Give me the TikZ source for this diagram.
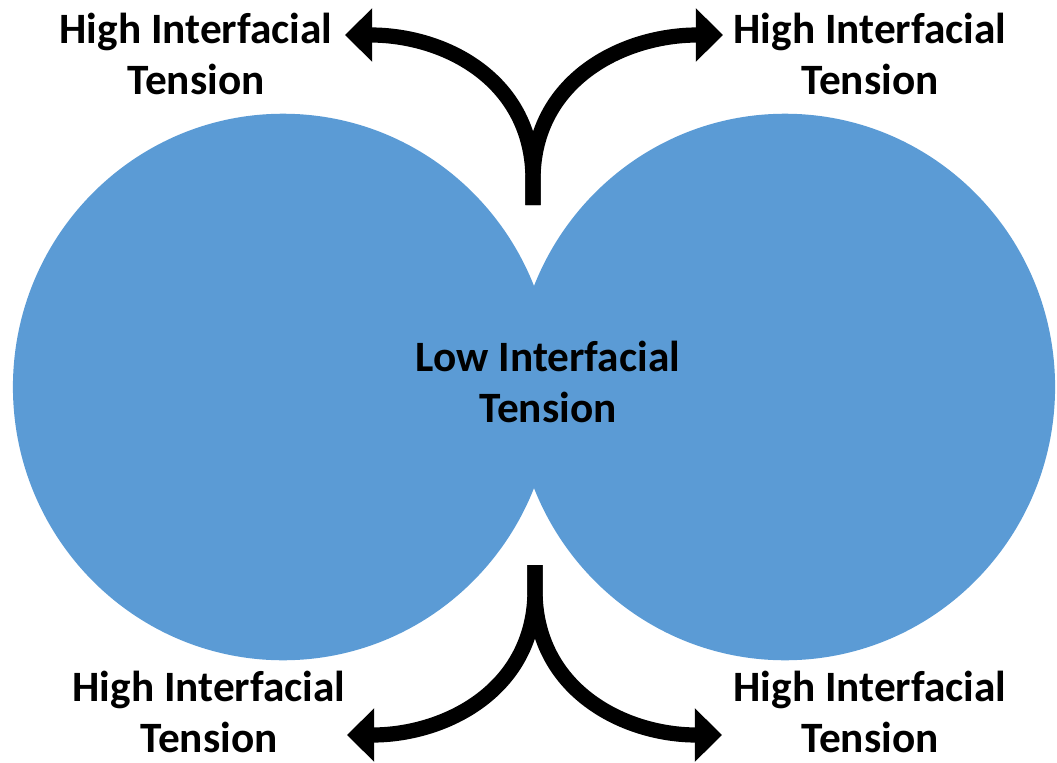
\documentclass[tikz,border=0pt]{standalone}
\usepackage{fontspec}
\setmainfont{Carlito}
\usepackage{tikz}
\usetikzlibrary{arrows.meta,positioning}
\definecolor{dropblue}{HTML}{5B9BD5}

\begin{document}
\begin{tikzpicture}[x=0.025cm,y=-0.025cm,
every node/.style={font=\bfseries\fontsize{30.8}{36.8}\selectfont,align=center,inner sep=0pt},
blob/.style={fill=dropblue,draw=none},
arrow/.style={-{Triangle[length=6.8mm,width=13mm]},line width=10.8pt,draw=black}]
\useasboundingbox (0,0) rectangle (1057,762);
\fill[blob] (283,387) ellipse [x radius=6.75cm,y radius=6.83cm];
\fill[blob] (785,387) ellipse [x radius=6.75cm,y radius=6.83cm];
\node (mid) at (548,382) {Low Interfacial\\Tension};
\node (tl) at (196,54) {High Interfacial\\Tension};
\node (tr) at (870,54) {High Interfacial\\Tension};
\node (bl) at (209,712) {High Interfacial\\Tension};
\node (br) at (870,712) {High Interfacial\\Tension};
\coordinate (topstem) at (533,205);
\coordinate (topfork) at (533,180);
\coordinate (tltip) at (345,35);
\coordinate (trtip) at (723,35);
\coordinate (botstem) at (535,565);
\coordinate (botfork) at (535,590);
\coordinate (bltip) at (347,735);
\coordinate (brtip) at (722,735);
\draw[arrow] (topstem) -- (topfork) .. controls +(0,-100) and +(100,0) .. (tltip);
\draw[arrow] (topstem) -- (topfork) .. controls +(0,-100) and +(-100,0) .. (trtip);
\draw[arrow] (botstem) -- (botfork) .. controls +(0,100) and +(98,0) .. (bltip);
\draw[arrow] (botstem) -- (botfork) .. controls +(0,100) and +(-98,0) .. (brtip);
\end{tikzpicture}
\end{document}
